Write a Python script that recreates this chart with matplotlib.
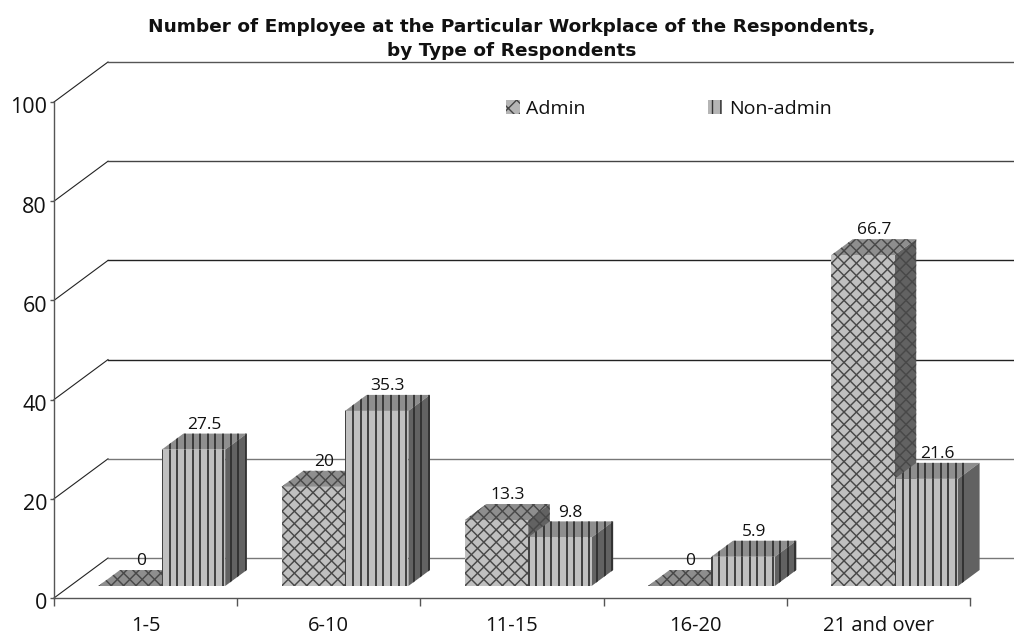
import numpy as np
import matplotlib
matplotlib.use("Agg")
import matplotlib.pyplot as plt
from matplotlib.patches import Polygon, Patch
from matplotlib.collections import LineCollection
from matplotlib.transforms import ScaledTranslation

title = "Number of Employee at the Particular Workplace of the Respondents,\nby Type of Respondents"
categories = ["1-5", "6-10", "11-15", "16-20", "21 and over"]
series_names = ["Admin", "Non-admin"]
admin = [0, 20, 13.3, 0, 66.7]
non_admin = [27.5, 35.3, 9.8, 5.9, 21.6]
admin_labels = ["0", "20", "13.3", "0", "66.7"]
non_admin_labels = ["27.5", "35.3", "9.8", "5.9", "21.6"]
y_ticks = [0, 20, 40, 60, 80, 100]
grid_colors = ["#777777", "#777777", "#222222", "#222222", "#444444", "#555555"]

W, H = 1014, 637
fig = plt.figure(figsize=(W / 100, H / 100), dpi=100, facecolor="white")
L, R, B, T = 54, 970, 598, 102
ax = fig.add_axes([L / W, 1 - B / H, (R - L) / W, (B - T) / H])
ax.set_xlim(0, 5)
ax.set_ylim(0, 100)
ax.patch.set_visible(False)

px = 5 / (R - L)      # data x per pixel
py = 100 / (B - T)    # data y per pixel
DX, DY = 54 * px, 40 * py          # full depth of the chart
F0 = 0.30                          # depth of bar front
F1 = 0.70                          # depth of bar back
BAR_W = 63.4 * px

FRONT, TOP, SIDE = "#c0c0c0", "#8e8e8e", "#626262"
LINE_X = "#484848"
LINE_V = "#2a2a2a"
FONT = "Open Sans"
BOLD = "DejaVu Sans"

# walls
for v, c in zip(y_ticks, grid_colors):
    ax.plot([0, DX], [v, v + DY], color="#222222", lw=0.8, clip_on=False, zorder=1)
    ax.plot([DX, (W - L) * px], [v + DY, v + DY], color=c, lw=1.0, clip_on=False, zorder=1)

def stripes(x0, x1, y0, y1):
    step = 7.6 * px
    xs = np.arange(x0 - 40 * step, x1 + step, step)
    return [[(x, y0), (x, y1)] for x in xs]

def cross(x0, x1, y0, y1):
    step_x = 12.4 * px
    segs = []
    span = int((y1 - y0) / (12.4 * py)) + int((x1 - x0) / step_x) + 4
    for k in range(-span, span + 1):
        x = x0 + k * step_x
        h = (x1 - x0) / px * py + (y1 - y0)
        segs.append([(x, y0), (x + h / py * px, y0 + h)])
        segs.append([(x, y0), (x - h / py * px, y0 + h)])
    return segs

def face(points, color, pattern, anchor, z):
    poly = Polygon(points, closed=True, facecolor=color, edgecolor="none",
                   clip_on=False, zorder=z)
    ax.add_patch(poly)
    lo = np.min(points, axis=0)
    hi = np.max(points, axis=0)
    if pattern == "cross":
        segs = cross(anchor, hi[0] + 5 * px, -5, hi[1] + 5)
        lc = LineCollection(segs, colors=LINE_X, linewidths=1.05, zorder=z + 0.1)
    else:
        segs = stripes(anchor, hi[0] + 5 * px, lo[1] - 1, hi[1] + 1)
        lc = LineCollection(segs, colors=LINE_V, linewidths=1.2, zorder=z + 0.1)
    ax.add_collection(lc, autolim=False)
    lc.set_clip_path(poly)

def bar3d(x, v, pattern, z):
    x0 = x + F0 * DX
    x1 = x0 + BAR_W
    y0 = F0 * DY
    d = (F1 - F0)
    dx, dy = d * DX, d * DY
    top = y0 + v
    anchor = x0 + (0.4 * px)
    face([(x0, top), (x1, top), (x1 + dx, top + dy), (x0 + dx, top + dy)], TOP, pattern, anchor, z)
    face([(x1, y0), (x1 + dx, y0 + dy), (x1 + dx, top + dy), (x1, top)], SIDE, pattern, anchor, z)
    if v > 0:
        face([(x0, y0), (x1, y0), (x1, top), (x0, top)], FRONT, pattern, anchor, z)
    return x0, x1, top + dy, dx

for i in range(len(categories)):
    base = i + 0.5 - BAR_W
    xa0, xa1, ta, dxa = bar3d(base, admin[i], "cross", 3)
    xb0, xb1, tb, dxb = bar3d(base + BAR_W, non_admin[i], "stripes", 4)
    ax.annotate(admin_labels[i], ((xa0 + xa1) / 2 + dxa / 2, ta), xytext=(0, 3.5),
                textcoords="offset points", ha="center", va="baseline",
                fontsize=12.5, family=FONT, color="#111111", zorder=6, annotation_clip=False)
    ax.annotate(non_admin_labels[i], ((xb0 + xb1) / 2 + dxb / 2, tb), xytext=(0, 3.5),
                textcoords="offset points", ha="center", va="baseline",
                fontsize=12.5, family=FONT, color="#111111", zorder=6, annotation_clip=False)

for s in ["top", "right"]:
    ax.spines[s].set_visible(False)
for s in ["left", "bottom"]:
    ax.spines[s].set_color("#555555")
    ax.spines[s].set_linewidth(1.0)

ax.set_yticks(y_ticks)
ax.set_yticklabels([str(v) for v in y_ticks], fontsize=15.5, family=FONT, color="#111111")
ax.set_xticks(range(6))
ax.set_xticklabels([])
ax.set_xticks(np.arange(5) + 0.5, labels=categories, minor=True)
ax.tick_params(axis="x", which="minor", length=0, pad=13, labelsize=14.5)
for t in ax.get_xticklabels(minor=True):
    t.set_family(FONT)
    t.set_color("#111111")
ax.tick_params(axis="x", which="major", length=5.5, width=1, color="#555555")
ax.tick_params(axis="y", length=3, width=1, color="#555555", pad=2)
nudge = ScaledTranslation(0, -2.5 / 72, fig.dpi_scale_trans)
for t in ax.get_yticklabels():
    t.set_transform(t.get_transform() + nudge)

fig.text(512 / W, 1 - 39 / H, title, ha="center", va="center", fontsize=13.3,
         fontweight="bold", family=BOLD, color="#111111", linespacing=1.45)

handles = [Patch(facecolor="#b5b5b5", edgecolor="#444444", hatch="xx", lw=0),
           Patch(facecolor="#b5b5b5", edgecolor="#333333", hatch="||", lw=0)]
leg = ax.legend(handles, series_names, ncol=2, frameon=False, loc="center left",
                bbox_to_anchor=((506 - L) / (R - L), (B - 109) / (B - T)),
                borderaxespad=0, borderpad=0, handlelength=0.7, handleheight=0.7,
                handletextpad=0.35, columnspacing=6.3,
                prop={"family": FONT, "size": 14})
for t in leg.get_texts():
    t.set_color("#111111")

fig.savefig("out.png", dpi=100)
